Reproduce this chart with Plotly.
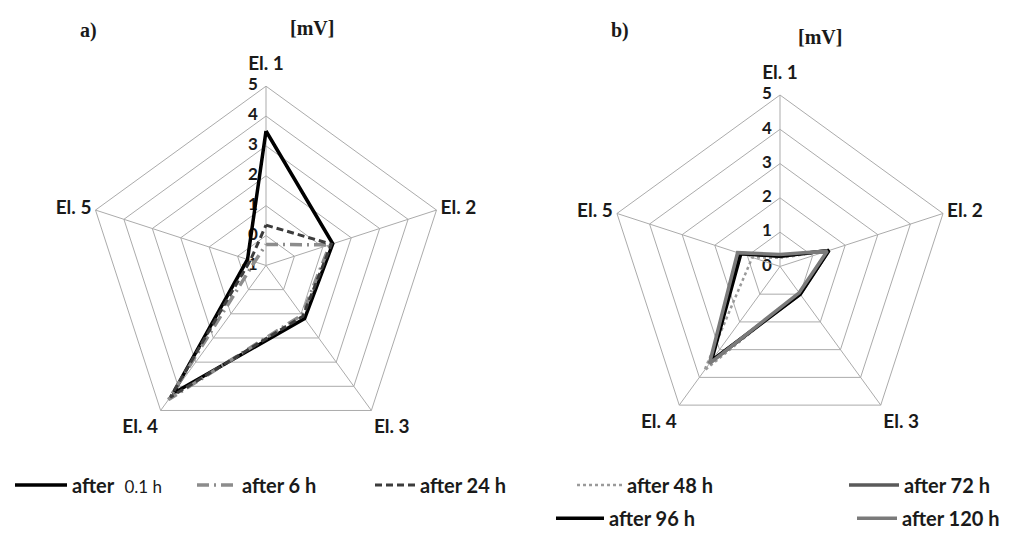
import plotly.graph_objects as go

# Electrode categories (spokes of both radar charts)
electrodes = ["El. 1", "El. 2", "El. 3", "El. 4", "El. 5"]

# Panel a) potentials [mV]
a_t01 = [3.5, 1.35, 1.2, 4.3, -0.35]
a_t6 = [-0.3, 1.25, 1.05, 4.55, -0.6]
a_t24 = [0.35, 1.3, 1.1, 4.45, -0.45]

# Panel b) potentials [mV]
b_t48 = [0.25, 1.45, 0.95, 3.75, 0.85]
b_t72 = [0.3, 1.5, 1.0, 3.45, 1.25]
b_t96 = [0.3, 1.5, 1.0, 3.4, 1.2]
b_t120 = [0.35, 1.45, 0.95, 3.5, 1.3]

a_ticks = [-1, 0, 1, 2, 3, 4, 5]
b_ticks = [0, 1, 2, 3, 4, 5]

W, H = 1009, 538
RAD_FONT = dict(family="Lato", size=17, color="#1a1a1a", weight="bold")
ANG_FONT = dict(family="Lato", size=19, color="#1a1a1a", weight="bold")
GRID = "#ababab"

# (centre x px, centre y px, radius px, radial range) for each panel
PANELS = {
    "a": (266, 271, 183, [-1, 5]),
    "b": (780, 272, 175, [0, 5]),
}


def closed(v):
    return v + v[:1]


def domains(cx, cy, R):
    return ([(cx - R) / W, (cx + R) / W],
            [(H - (cy + R)) / H, (H - (cy - R)) / H])


theta = closed(electrodes)

fig = go.Figure()

series = [
    ("polar", "legend", "<b>after</b>  <span style='font-size:17px'>0.1 h</span>", a_t01,
     dict(color="#000000", width=3.5)),
    ("polar", "legend2", "<b>after 6 h</b>", a_t6,
     dict(color="#8c8c8c", width=3.5, dash="12px,5px,2px,5px")),
    ("polar", "legend3", "<b>after 24 h</b>", a_t24,
     dict(color="#3c3c3c", width=3, dash="7px,4px")),
    ("polar2", "legend4", "<b>after 48 h</b>", b_t48,
     dict(color="#9a9a9a", width=2.5, dash="dot")),
    ("polar2", "legend5", "<b>after 72 h</b>", b_t72,
     dict(color="#5a5a5a", width=3.5)),
    ("polar2", "legend6", "<b>after 96 h</b>", b_t96,
     dict(color="#000000", width=3.5)),
    ("polar2", "legend7", "<b>after 120 h</b>", b_t120,
     dict(color="#7a7a7a", width=3.5)),
]

for subplot, leg, name, vals, line in series:
    fig.add_trace(go.Scatterpolar(
        r=closed(vals), theta=theta, mode="lines", name=name,
        line=line, subplot=subplot, legend=leg, showlegend=True,
    ))


def polar_layout(cx, cy, R, rng):
    dx, dy = domains(cx, cy, R)
    return dict(
        domain=dict(x=dx, y=dy),
        gridshape="linear",
        bgcolor="rgba(0,0,0,0)",
        radialaxis=dict(
            range=rng, dtick=1, angle=90, showticklabels=False,
            showline=False, gridcolor=GRID, gridwidth=1, ticks="",
        ),
        angularaxis=dict(
            rotation=90, direction="clockwise", showline=True,
            linecolor=GRID, linewidth=1, gridcolor=GRID, gridwidth=1,
            ticks="", tickfont=ANG_FONT,
            tickvals=electrodes,
            ticktext=["<sup><span style='font-size:19px'>El. 1</span></sup>"] + electrodes[1:],
        ),
    )


# Radial scale labels: a hidden cartesian frame shares each polar domain,
# its y scale running along the vertical El. 1 spoke (centre = range start).
def label_axes(cx, cy, R, rng):
    dx, dy = domains(cx, cy, R)
    span = rng[1] - rng[0]
    xa = dict(domain=dx, range=[-1, 1], visible=False, fixedrange=True)
    ya = dict(domain=dy, range=[rng[0] - span, rng[1]], visible=False,
              fixedrange=True)
    return xa, ya


axes = {}
for i, (key, ticks) in enumerate((("a", a_ticks), ("b", b_ticks)), start=1):
    cx, cy, R, rng = PANELS[key]
    xa, ya = label_axes(cx, cy, R, rng)
    xname, yname = ("x", "y") if i == 1 else (f"x{i}", f"y{i}")
    xa["anchor"], ya["anchor"] = yname, xname
    axes["xaxis" if i == 1 else f"xaxis{i}"] = xa
    axes["yaxis" if i == 1 else f"yaxis{i}"] = ya
    fig.add_trace(go.Scatter(
        x=[0] * len(ticks), y=ticks, mode="text",
        text=[f"{t}\u00a0\u00a0" for t in ticks], textposition="middle left",
        textfont=RAD_FONT, xaxis=xname, yaxis=yname, showlegend=False,
        hoverinfo="skip", cliponaxis=False,
    ))

legend_font = dict(family="Lato", size=20, color="#1a1a1a")
# (left px, centre px, sample width)
legend_pos = {
    "legend": (10, 495, 52),
    "legend2": (192, 495, 40),
    "legend3": (370, 495, 40),
    "legend4": (572, 495, 45),
    "legend5": (844, 495, 50),
    "legend6": (551, 529, 48),
    "legend7": (852, 529, 40),
}
legends = {}
for key, (px, py, iw) in legend_pos.items():
    legends[key] = dict(
        x=px / W, y=(H - py) / H, xanchor="left", yanchor="middle",
        bgcolor="rgba(0,0,0,0)", font=legend_font, borderwidth=0,
        itemwidth=iw,
    )

serif = dict(family="Liberation Serif", size=20, color="#1a1a1a", weight="bold")
annotations = [
    dict(text="a)", x=88 / W, y=(H - 31) / H, showarrow=False, font=serif),
    dict(text="[mV]", x=312 / W, y=(H - 29) / H, showarrow=False, font=serif),
    dict(text="b)", x=620 / W, y=(H - 31) / H, showarrow=False, font=serif),
    dict(text="[mV]", x=820 / W, y=(H - 38) / H, showarrow=False, font=serif),
]
for ann in annotations:
    ann.update(xref="paper", yref="paper", xanchor="center", yanchor="middle")

fig.update_layout(
    width=W, height=H,
    margin=dict(l=0, r=0, t=0, b=0),
    paper_bgcolor="white", plot_bgcolor="rgba(0,0,0,0)",
    polar=polar_layout(*PANELS["a"]),
    polar2=polar_layout(*PANELS["b"]),
    annotations=annotations,
    **axes,
    **legends,
)

fig.write_html("out.html")
